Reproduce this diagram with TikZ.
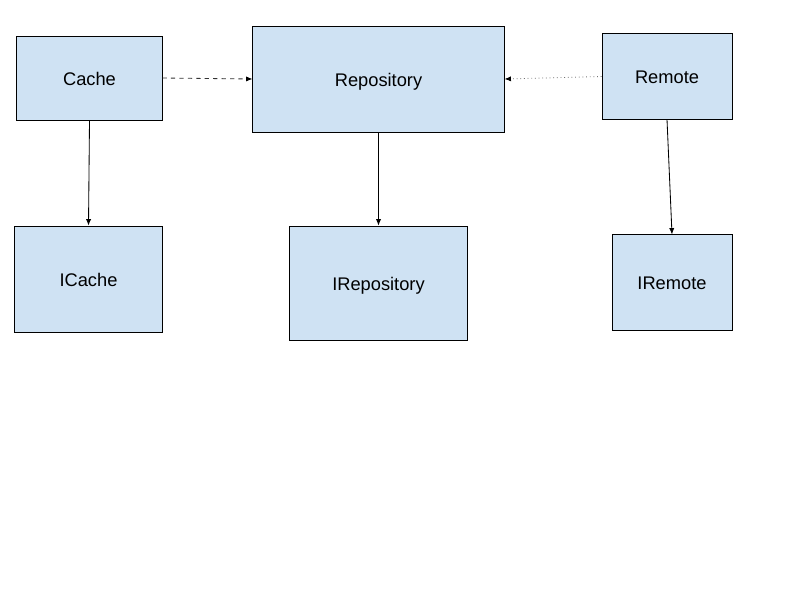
\documentclass[tikz,border=0pt]{standalone}
\usepackage{fontspec}
\setmainfont{Liberation Sans}
\usetikzlibrary{positioning, arrows.meta}
\definecolor{boxblue}{HTML}{CFE2F3}
\begin{document}
\begin{tikzpicture}
    [
        x=0.025cm, y=-0.025cm,
        blue_box/.style={rectangle, draw=black, fill=boxblue, line width=0.6pt, inner sep=0pt, text height=1em, text depth=0pt, font=\fontsize{13}{15}\selectfont},
        link/.style={line width=0.6pt, -{Latex[length=1.6mm, width=1.3mm, color=black]}},
    ]
        \useasboundingbox (0,0) rectangle (800,600);
        \node[blue_box, minimum width=3.63cm, minimum height=2.1cm] (cache) at (89.5,78) {Cache} ;
        \node[blue_box, minimum width=6.28cm, minimum height=2.65cm] (repo) at (378.5,79) {Repository} ;
        \node[blue_box, minimum width=3.25cm, minimum height=2.13cm] (remote) at (667,76.5) {Remote} ;
        \node[blue_box, minimum width=3.68cm, minimum height=2.65cm] (icache) at (88.5,279) {ICache} ;
        \node[blue_box, minimum width=4.43cm, minimum height=2.85cm] (irepo) at (378.5,283) {IRepository} ;
        \node[blue_box, minimum width=3.0cm, minimum height=2.38cm] (iremote) at (672,282.5) {IRemote} ;
        \draw[link, dashed, draw=black!80] (cache.east) -- (repo.west) ;
        \draw[link, dotted, draw=black!55] (remote.west) -- (repo.east) ;
        \draw[link] (cache.south) -- (icache.north) ;
        \draw[link] (repo.south) -- (irepo.north) ;
        \draw[link] (remote.south) -- (iremote.north) ;
    \end{tikzpicture}
\end{document}
